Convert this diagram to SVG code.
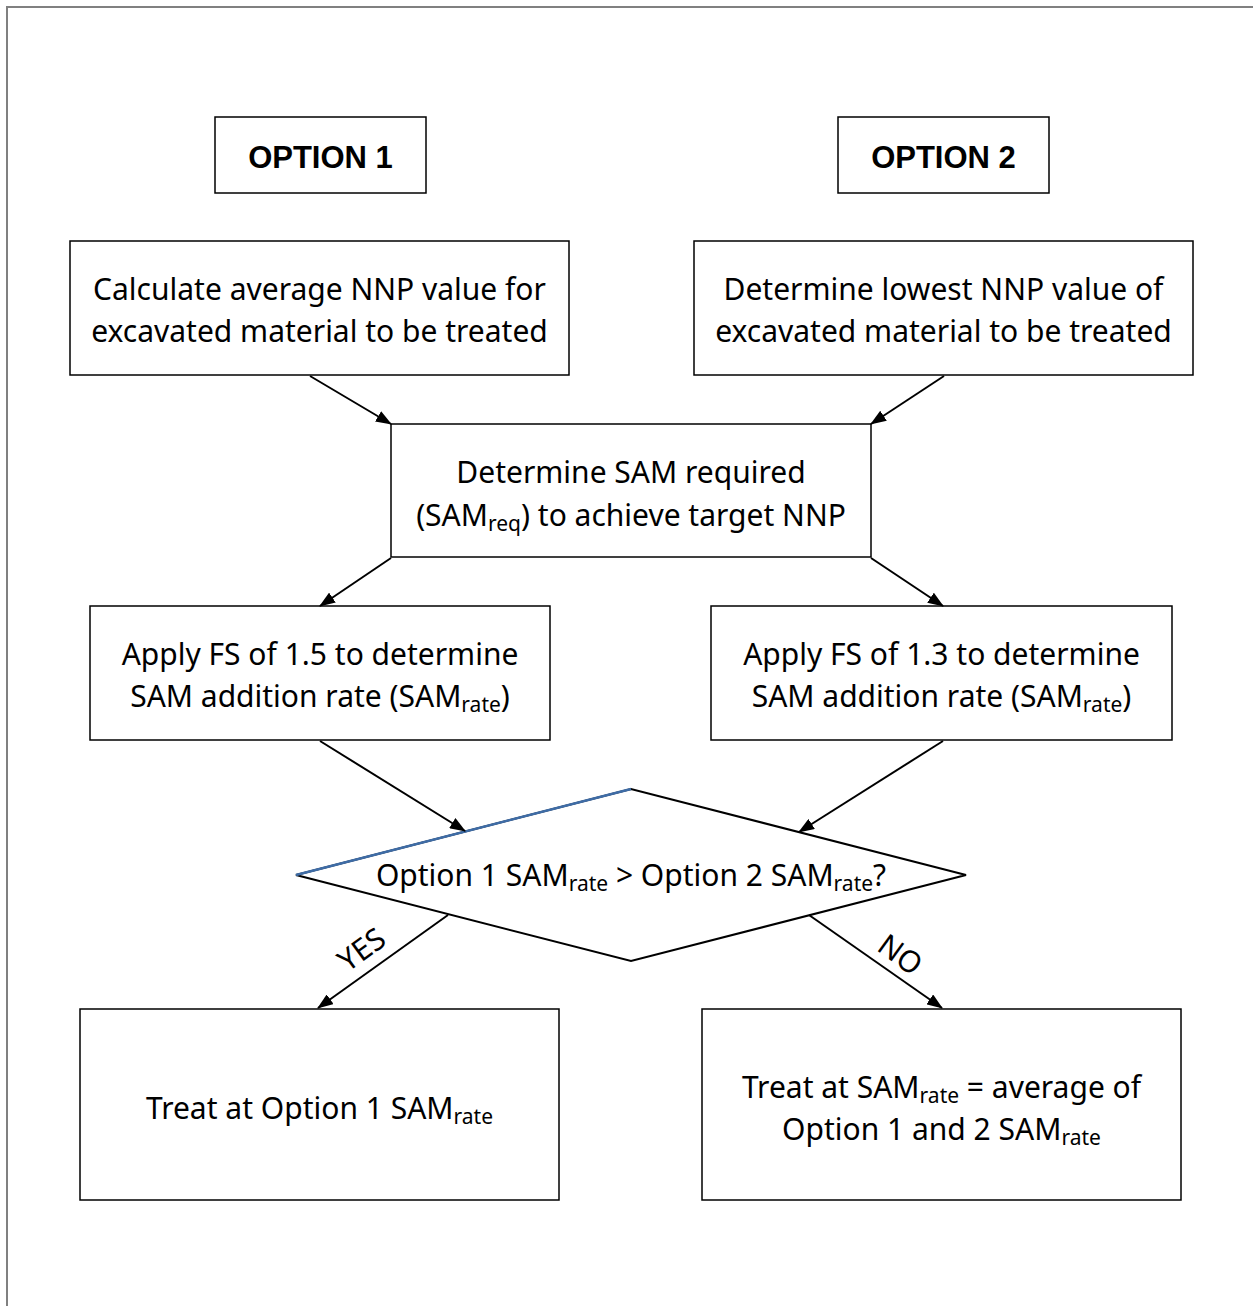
<svg xmlns="http://www.w3.org/2000/svg" width="1253" height="1306" viewBox="0 0 1253 1306">
<defs>
<marker id="ah" markerWidth="16" markerHeight="12" refX="15" refY="6" orient="auto" markerUnits="userSpaceOnUse">
<path d="M0,0 L16,6 L0,12 Z" fill="#000"/>
</marker>
<style>
.box{fill:#fff;stroke:#000;stroke-width:1.5}
.t{font-family:"Noto Sans","Open Sans",sans-serif;font-size:30px;fill:#000;text-anchor:middle}
.h{font-family:"Liberation Sans",Arial,sans-serif;font-size:31px;font-weight:bold;fill:#000;text-anchor:middle}
.s{font-size:21px}
.c{stroke:#000;stroke-width:2;fill:none;marker-end:url(#ah)}
</style>
</defs>
<rect width="1253" height="1306" fill="#fff"/>
<path d="M7,1306 V7 H1253" fill="none" stroke="#808080" stroke-width="2"/>
<g id="opt1"><rect class="box" x="215" y="117" width="211" height="76"/><text class="h" x="320.5" y="168">OPTION 1</text></g>
<g id="opt2"><rect class="box" x="838" y="117" width="211" height="76"/><text class="h" x="943.5" y="168">OPTION 2</text></g>
<g id="nodeA"><rect class="box" x="70" y="241" width="499" height="134"/>
<text class="t" x="319.5" y="300">Calculate average NNP value for</text>
<text class="t" x="319.5" y="342">excavated material to be treated</text></g>
<g id="nodeB"><rect class="box" x="694" y="241" width="499" height="134"/>
<text class="t" x="943.5" y="300">Determine lowest NNP value of</text>
<text class="t" x="943.5" y="342">excavated material to be treated</text></g>
<g id="nodeC"><rect class="box" x="391" y="424" width="480" height="133"/>
<text class="t" x="631" y="483">Determine SAM required</text>
<text class="t" x="631" y="526">(SAM<tspan class="s" dy="5">req</tspan><tspan dy="-5">) to achieve target NNP</tspan></text></g>
<g id="nodeD"><rect class="box" x="90" y="606" width="460" height="134"/>
<text class="t" x="320" y="665">Apply FS of 1.5 to determine</text>
<text class="t" x="320" y="707">SAM addition rate (SAM<tspan class="s" dy="5">rate</tspan><tspan dy="-5">)</tspan></text></g>
<g id="nodeE"><rect class="box" x="711" y="606" width="461" height="134"/>
<text class="t" x="941.5" y="665">Apply FS of 1.3 to determine</text>
<text class="t" x="941.5" y="707">SAM addition rate (SAM<tspan class="s" dy="5">rate</tspan><tspan dy="-5">)</tspan></text></g>
<g id="decision"><path d="M296,875 L631,789 L966,875 L631,961 Z" fill="#fff" stroke="#000" stroke-width="2"/>
<path d="M296,875 L631,789" stroke="#3e6ca6" stroke-width="2.5"/>
<text class="t" x="631" y="886">Option 1 SAM<tspan class="s" dy="5">rate</tspan><tspan dy="-5"> &gt; Option 2 SAM</tspan><tspan class="s" dy="5">rate</tspan><tspan dy="-5">?</tspan></text></g>
<g id="nodeF"><rect class="box" x="80" y="1009" width="479" height="191"/>
<text class="t" x="319.5" y="1119">Treat at Option 1 SAM<tspan class="s" dy="5">rate</tspan></text></g>
<g id="nodeG"><rect class="box" x="702" y="1009" width="479" height="191"/>
<text class="t" x="941.5" y="1098">Treat at SAM<tspan class="s" dy="5">rate</tspan><tspan dy="-5"> = average of</tspan></text>
<text class="t" x="941.5" y="1140">Option 1 and 2 SAM<tspan class="s" dy="5">rate</tspan></text></g>
<g id="connectors">
<line class="c" x1="310" y1="376" x2="391" y2="424"/>
<line class="c" x1="944" y1="376" x2="871" y2="424"/>
<line class="c" x1="391" y1="558" x2="320" y2="606"/>
<line class="c" x1="871" y1="558" x2="943" y2="606"/>
<line class="c" x1="320" y1="741" x2="465" y2="831"/>
<line class="c" x1="943" y1="741" x2="799" y2="832"/>
<line class="c" x1="448" y1="915" x2="318" y2="1008"/>
<line class="c" x1="809" y1="915" x2="942" y2="1008"/>
<text class="t" x="362" y="960" transform="rotate(-36 362 950)">YES</text>
<text class="t" x="900" y="965" transform="rotate(36 900 955)">NO</text>
</g>
</svg>
